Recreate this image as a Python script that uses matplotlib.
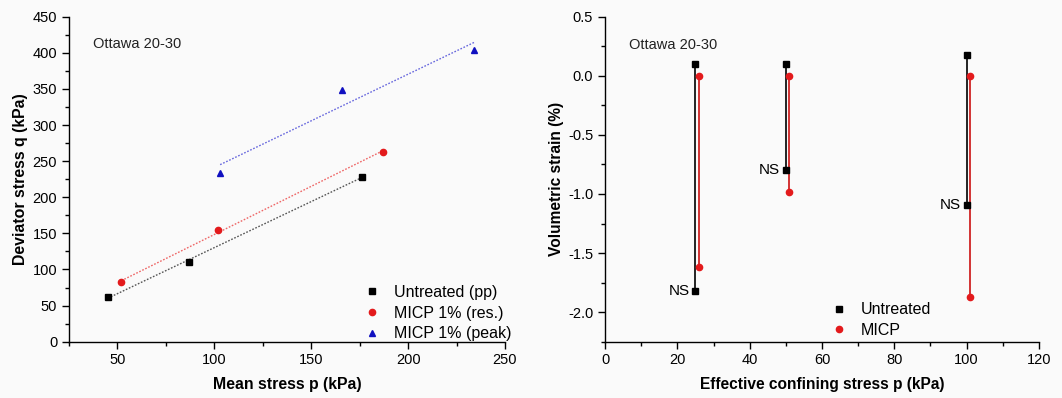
import numpy as np
import matplotlib
matplotlib.use("Agg")
import matplotlib.pyplot as plt
from matplotlib.ticker import MultipleLocator

plt.rcParams['font.family'] = ['Liberation Sans', 'DejaVu Sans']
plt.rcParams['axes.unicode_minus'] = False

# (a) deviator stress vs mean stress
p_untreated = [45, 87, 176]
q_untreated = [62, 111, 228]
p_res = [52, 102, 187]
q_res = [82, 155, 263]
p_peak = [103, 166, 234]
q_peak = [234, 348, 404]

# (b) volumetric strain at each confining stress (start / end)
conf_untreated = [25, 50, 100]
ev_untreated_top = [0.10, 0.10, 0.18]
ev_untreated_bot = [-1.82, -0.80, -1.09]
conf_micp = [26, 51, 101]
ev_micp_top = [0.0, 0.0, 0.0]
ev_micp_bot = [-1.62, -0.98, -1.87]
ns_label = "NS"

bg = '#fafafa'
fig = plt.figure(figsize=(10.62, 3.98), dpi=100, facecolor=bg)
ax1 = fig.add_axes([0.065, 0.1415, 0.4105, 0.8165], facecolor=bg)
ax2 = fig.add_axes([0.5697, 0.1415, 0.4086, 0.8165], facecolor=bg)


def style_axes(ax):
    for s in ['top', 'right']:
        ax.spines[s].set_visible(False)
    for s in ['left', 'bottom']:
        ax.spines[s].set_linewidth(1.0)
    ax.tick_params(which='major', direction='out', length=5, width=1, labelsize=10.5)
    ax.tick_params(which='minor', direction='out', length=3, width=1)


def fit_line(ax, x, y, color):
    k, b = np.polyfit(x, y, 1)
    xs = np.array([min(x), max(x)])
    ax.plot(xs, k * xs + b, ls=(0, (1.2, 1.2)), lw=1.0, color=color)


fit_line(ax1, p_untreated, q_untreated, '#555555')
fit_line(ax1, p_res, q_res, '#ee6666')
fit_line(ax1, p_peak, q_peak, '#6666dd')
ax1.plot(p_untreated, q_untreated, 's', color='black', ms=4, ls='none', label='Untreated (pp)')
ax1.plot(p_res, q_res, 'o', color='#e31a1c', ms=4.5, ls='none', label='MICP 1% (res.)')
ax1.plot(p_peak, q_peak, '^', color='#1010c0', ms=4.5, ls='none', label='MICP 1% (peak)')

ax1.set_xlim(25, 250)
ax1.set_ylim(0, 450)
ax1.xaxis.set_major_locator(MultipleLocator(50))
ax1.xaxis.set_minor_locator(MultipleLocator(25))
ax1.yaxis.set_major_locator(MultipleLocator(50))
ax1.yaxis.set_minor_locator(MultipleLocator(25))
style_axes(ax1)
ax1.set_xlabel('Mean stress p (kPa)', fontweight='bold', fontsize=11.4, labelpad=7)
ax1.set_ylabel('Deviator stress q (kPa)', fontweight='bold', fontsize=11.4, labelpad=3)
ax1.text(0.055, 0.905, 'Ottawa 20-30', transform=ax1.transAxes, fontsize=10.5,
         color='#222222')
ax1.legend(loc='lower right', frameon=False, fontsize=11.5, handlelength=1.0,
           handletextpad=0.9, labelspacing=0.35, borderaxespad=0.0,
           bbox_to_anchor=(1.03, -0.018))

# vertical strain ranges
for x, y0, y1 in zip(conf_untreated, ev_untreated_top, ev_untreated_bot):
    ax2.plot([x, x], [y0, y1], color='black', lw=1.2)
for x, y0, y1 in zip(conf_micp, ev_micp_top, ev_micp_bot):
    ax2.plot([x, x], [y0, y1], color='#cc1111', lw=1.2)
ax2.plot(conf_untreated + conf_untreated, ev_untreated_top + ev_untreated_bot, 's',
         color='black', ms=4, ls='none', label='Untreated')
ax2.plot(conf_micp + conf_micp, ev_micp_top + ev_micp_bot, 'o',
         color='#e31a1c', ms=4.5, ls='none', label='MICP')
for x, y in zip(conf_untreated, ev_untreated_bot):
    ax2.annotate(ns_label, (x, y), xytext=(-4, 0), textcoords='offset points',
                 ha='right', va='center', fontsize=11)

ax2.set_xlim(0, 120)
ax2.set_ylim(-2.25, 0.5)
ax2.xaxis.set_major_locator(MultipleLocator(20))
ax2.xaxis.set_minor_locator(MultipleLocator(10))
ax2.yaxis.set_major_locator(MultipleLocator(0.5))
ax2.yaxis.set_minor_locator(MultipleLocator(0.25))
style_axes(ax2)
ax2.set_xlabel('Effective confining stress p (kPa)', fontweight='bold', fontsize=11.2, labelpad=7)
ax2.set_ylabel('Volumetric strain (%)', fontweight='bold', fontsize=11.2, labelpad=3)
ax2.text(0.055, 0.9, 'Ottawa 20-30', transform=ax2.transAxes, fontsize=10.5,
         color='#222222')
ax2.legend(loc='lower left', frameon=False, fontsize=11.5, handlelength=1.0,
           handletextpad=0.9, labelspacing=0.35, borderaxespad=0.0,
           bbox_to_anchor=(0.505, -0.008))

fig.savefig('out.png', dpi=100, facecolor=bg)
